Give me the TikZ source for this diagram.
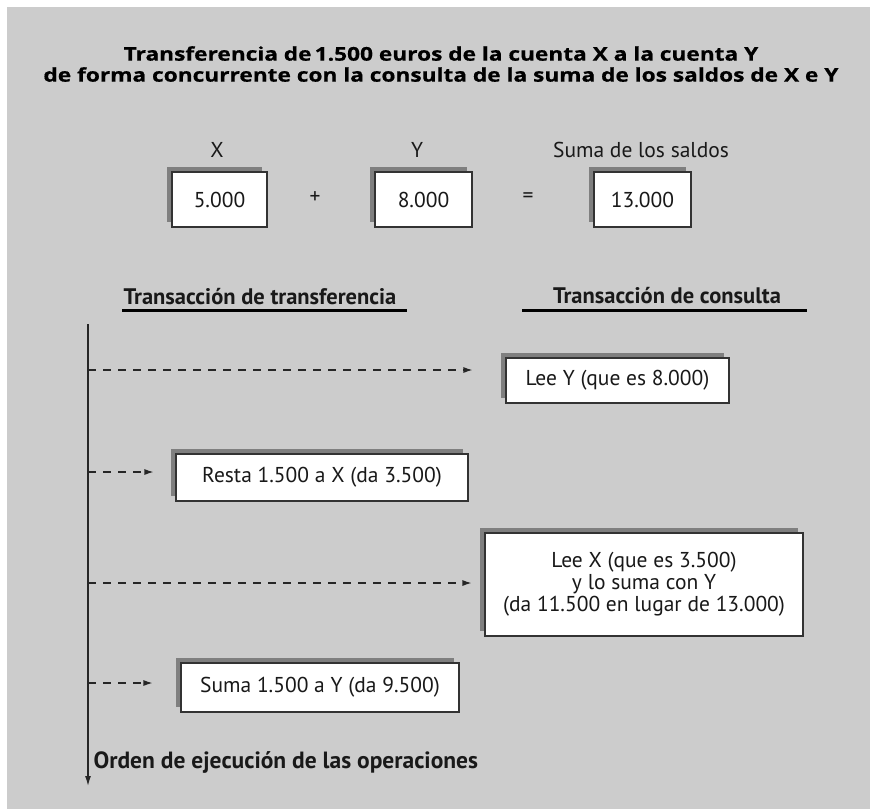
\documentclass[tikz,border=0pt]{standalone}
\usepackage{fontspec}
\setmainfont{PT Sans}
\newfontfamily\titfont{Open Sans}[FakeStretch=1.2, FakeBold=0.6]
\usepackage{tikz}
\usetikzlibrary{arrows,arrows.meta,shapes,positioning,shadows,calc}

\definecolor{fondo}{HTML}{CCCCCC}
\definecolor{sombra}{HTML}{7F7F7F}
\newcommand{\cuerpo}{\fontsize{21.5}{22}\selectfont}
\newcommand{\cabecera}{\fontsize{22.5}{24}\selectfont\bfseries}
\newcommand{\titulo}{\titfont\fontsize{18.9}{21}\selectfont\bfseries}

\tikzset{
    caja/.style={draw=black!80, fill=white, line width=1.1pt, inner sep=3pt,
        drop shadow={shadow xshift=-5pt, shadow yshift=5pt, fill=sombra, opacity=1}},
    flecha/.style={-{Latex[length=9pt,width=6pt]}, dash pattern=on 8pt off 7pt, line width=1.1pt, black!85},
    eje/.style={-{Latex[length=10pt,width=6pt]}, line width=1.3pt, black!85},
    subraya/.style={line width=3pt, black},
}

\begin{document}
\begin{tikzpicture}[x=1pt, y=-1pt, font=\cuerpo, text=black!90]
    \useasboundingbox (0,0) rectangle (870,809);
    \fill[fondo] (7,7) rectangle (870,809);

    % titulo
    \node[align=center, font=\titulo, text=black] (titulo) at (441,64)
        {Transferencia de\,1.500 euros de la cuenta X a la cuenta Y\\
         de forma concurrente con la consulta de la suma de los saldos de X e Y};

    % saldos
    \node[caja, minimum width=95pt, minimum height=55pt] (cx) at (219.5,199.5) {5.000};
    \node[caja, minimum width=97pt, minimum height=55pt] (cy) at (423.5,199.5) {8.000};
    \node[caja, minimum width=97pt, minimum height=55pt] (cs) at (642.5,199.5) {13.000};
    \node (lx) at (217,150) {X};
    \node (ly) at (417,150) {Y};
    \node (ls) at (641,150) {Suma de los saldos};
    \node (mas) at (315,198) {+};
    \node (igual) at (528,198) {=};

    % cabeceras
    \node[font=\cabecera] (htrans) at (260,297) {Transacción de transferencia};
    \node[font=\cabecera] (hcons) at (667,296) {Transacción de consulta};
    \draw[subraya] (122,310) -- (407,310);
    \draw[subraya] (522,310) -- (807,310);

    % eje de tiempo
    \coordinate (inicio) at (88,324);
    \coordinate (fin) at (88,786);
    \draw[eje] (inicio) -- (fin);
    \node[anchor=west, font=\fontsize{23.5}{24}\selectfont\bfseries] (orden) at (90,762) {Orden de ejecución de las operaciones};

    % operaciones
    \node[caja, minimum width=223pt, minimum height=45pt] (leey) at (617.5,380.5) {Lee Y (que es 8.000)};
    \node[caja, minimum width=292pt, minimum height=47pt] (resta) at (322,477.5) {Resta 1.500 a X (da 3.500)};
    \node[caja, minimum width=318pt, minimum height=103pt, align=center] (leex) at (644,584.5)
        {Lee X (que es 3.500)\\y lo suma con Y\\(da 11.500 en lugar de 13.000)};
    \node[caja, minimum width=278pt, minimum height=49pt] (suma) at (320,687.5) {Suma 1.500 a Y (da 9.500)};

    \coordinate (t1) at (88,370);
    \coordinate (t2) at (88,472);
    \coordinate (t3) at (88,583);
    \coordinate (t4) at (88,683);
    \draw[flecha] (t1) -- ([xshift=-33pt]leey.west |- t1);
    \draw[flecha] (t2) -- ([xshift=-22pt]resta.west |- t2);
    \draw[flecha] (t3) -- ([xshift=-13pt]leex.west |- t3);
    \draw[flecha] (t4) -- ([xshift=-28pt]suma.west |- t4);
\end{tikzpicture}
\end{document}
